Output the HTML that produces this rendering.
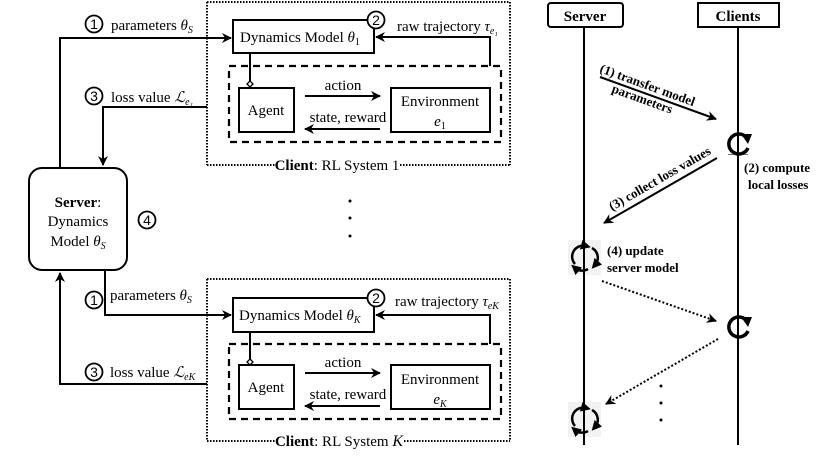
<!DOCTYPE html>
<html><head><meta charset="utf-8"><style>
html,body{margin:0;padding:0;background:#fff}
svg{display:block}
</style></head><body>
<svg width="831" height="464" viewBox="0 0 831 464" xmlns="http://www.w3.org/2000/svg" style="font-family:'Liberation Serif',serif">
<defs>
<marker id="a" viewBox="0 0 10 10" refX="9" refY="5" markerWidth="5" markerHeight="5" orient="auto"><path d="M0,0 L10,5 L0,10 L3,5 z" fill="#000"/></marker>
<marker id="ic" viewBox="0 0 10 10" refX="5" refY="5" markerWidth="4" markerHeight="4" orient="auto"><path d="M0,0 L10,5 L0,10 z" fill="#000"/></marker>
</defs>
<g stroke="#000" fill="none">
<path d="M207,2 V165 M207,2 H510 V165 M207,165 H275 M400,165 H510" stroke-width="2" stroke-dasharray="1.5,1.5"/>
<rect x="233" y="20" width="141" height="33" stroke-width="2"/>
<rect x="229" y="66" width="272" height="76" stroke-width="2.2" stroke-dasharray="7,5"/>
<rect x="239" y="88" width="55" height="44" stroke-width="2"/>
<rect x="391" y="88" width="99" height="44" stroke-width="2"/>
<path d="M305,96 H380" stroke-width="2" marker-end="url(#a)"/>
<path d="M380,129 H305" stroke-width="2" marker-end="url(#a)"/>
<path d="M490,66 V37 H376" stroke-width="2" marker-end="url(#a)"/>
<path d="M250,53 V84" stroke-width="2"/>
<path d="M60,168 V38 H231" stroke-width="2" marker-end="url(#a)"/>
<path d="M207,107 H103 V165" stroke-width="2" marker-end="url(#a)"/>
<path d="M207,279 V441 M207,279 H510 V441 M207,441 H275 M404,441 H510" stroke-width="2" stroke-dasharray="1.5,1.5"/>
<rect x="233" y="298" width="141" height="34" stroke-width="2"/>
<rect x="229" y="344" width="272" height="75" stroke-width="2.2" stroke-dasharray="7,5"/>
<rect x="239" y="365" width="55" height="44" stroke-width="2"/>
<rect x="391" y="365" width="99" height="44" stroke-width="2"/>
<path d="M305,373 H380" stroke-width="2" marker-end="url(#a)"/>
<path d="M380,406 H305" stroke-width="2" marker-end="url(#a)"/>
<path d="M490,344 V315 H376" stroke-width="2" marker-end="url(#a)"/>
<path d="M250,332 V361" stroke-width="2"/>
<path d="M105,270 V315 H231" stroke-width="2" marker-end="url(#a)"/>
<path d="M207,384 H60 V273" stroke-width="2" marker-end="url(#a)"/>
<rect x="29" y="168" width="98" height="102" rx="13" stroke-width="2"/>
<g stroke-width="1.8" fill="#fff">
<circle cx="94" cy="24" r="8.5"/><circle cx="94" cy="96" r="8.5"/><circle cx="376" cy="20" r="8.5"/>
<circle cx="147" cy="220" r="8.5"/>
<circle cx="94" cy="300" r="8.5"/><circle cx="94" cy="372" r="8.5"/><circle cx="376" cy="298" r="8.5"/>
</g>
<path d="M250,81 l3,3 l-3,3 l-3,-3 z M250,359 l3,3 l-3,3 l-3,-3 z" stroke-width="1.3" fill="#fff"/>
</g>
<g font-size="14" text-anchor="middle" style="font-family:'Liberation Sans',sans-serif">
<text x="94" y="29">1</text><text x="94" y="101">3</text><text x="376" y="25">2</text>
<text x="147" y="225">4</text>
<text x="94" y="305">1</text><text x="94" y="377">3</text><text x="376" y="303">2</text>
</g>
<g font-size="15" fill="#000">
<text x="111" y="30">parameters <tspan font-style="italic">θ</tspan><tspan font-size="10" dy="3" font-style="italic">S</tspan></text>
<text x="111" y="102">loss value <tspan font-style="italic">ℒ</tspan><tspan font-size="10" dy="3" font-style="italic">e₁</tspan></text>
<text x="240" y="42">Dynamics Model <tspan font-style="italic">θ</tspan><tspan font-size="10" dy="3">1</tspan></text>
<text x="397" y="31">raw trajectory <tspan font-style="italic">τ</tspan><tspan font-size="10" dy="3" font-style="italic">e₁</tspan></text>
<text x="343" y="90" text-anchor="middle">action</text>
<text x="348" y="122" text-anchor="middle">state, reward</text>
<text x="266" y="115" text-anchor="middle">Agent</text>
<text x="440" y="106" text-anchor="middle">Environment</text>
<text x="440" y="126" text-anchor="middle"><tspan font-style="italic">e</tspan><tspan font-size="10" dy="3">1</tspan></text>
<text x="337" y="170" text-anchor="middle"><tspan font-weight="bold">Client</tspan>: RL System 1</text>
<text x="110" y="300">parameters <tspan font-style="italic">θ</tspan><tspan font-size="10" dy="3" font-style="italic">S</tspan></text>
<text x="110" y="377">loss value <tspan font-style="italic">ℒ</tspan><tspan font-size="10" dy="3" font-style="italic">eK</tspan></text>
<text x="239" y="320">Dynamics Model <tspan font-style="italic">θ</tspan><tspan font-size="10" dy="3" font-style="italic">K</tspan></text>
<text x="395" y="306">raw trajectory <tspan font-style="italic">τ</tspan><tspan font-size="10" dy="3" font-style="italic">eK</tspan></text>
<text x="343" y="367" text-anchor="middle">action</text>
<text x="348" y="399" text-anchor="middle">state, reward</text>
<text x="266" y="392" text-anchor="middle">Agent</text>
<text x="440" y="384" text-anchor="middle">Environment</text>
<text x="440" y="404" text-anchor="middle"><tspan font-style="italic">e</tspan><tspan font-size="10" dy="3" font-style="italic">K</tspan></text>
<text x="339" y="446" text-anchor="middle"><tspan font-weight="bold">Client</tspan>: RL System <tspan font-style="italic" font-size="16">K</tspan></text>
<text x="78" y="207" text-anchor="middle"><tspan font-weight="bold">Server</tspan>:</text>
<text x="78" y="226" text-anchor="middle">Dynamics</text>
<text x="78" y="246" text-anchor="middle">Model <tspan font-style="italic">θ</tspan><tspan font-size="10" dy="3" font-style="italic">S</tspan></text>
</g>
<g fill="#000"><circle cx="350" cy="201" r="1.5"/><circle cx="350" cy="218" r="1.5"/><circle cx="350" cy="236" r="1.5"/>
<circle cx="661" cy="386" r="1.5"/><circle cx="661" cy="403" r="1.5"/><circle cx="661" cy="420" r="1.5"/></g>
<g stroke="#000" fill="none" stroke-width="2">
<path d="M584,27 V445 M738,27 V445"/>
<rect x="548" y="3" width="75" height="24" rx="3" fill="#fff"/>
<rect x="698" y="3" width="81" height="24" fill="#fff"/>
<path d="M600,77 L716,119" marker-end="url(#a)"/>
<path d="M717,158 L604,223" marker-end="url(#a)"/>
<path d="M602,281 L716,321" stroke-dasharray="2,2" marker-end="url(#a)"/>
<path d="M718,339 L606,404" stroke-dasharray="2,2" marker-end="url(#a)"/>
</g>
<g font-weight="bold" fill="#000">
<text x="585" y="21" text-anchor="middle" font-size="15">Server</text>
<text x="738" y="21" text-anchor="middle" font-size="15">Clients</text>
<text transform="translate(599,72) rotate(20)" font-size="13">(1) transfer model</text>
<text transform="translate(611,92) rotate(20)" font-size="13">parameters</text>
<text transform="translate(612,211) rotate(-30)" font-size="13">(3) collect loss values</text>
<text x="744" y="172" font-size="13">(2) compute</text>
<text x="748" y="189" font-size="13">local losses</text>
<text x="607" y="255" font-size="13">(4) update</text>
<text x="607" y="272" font-size="13">server model</text>
</g>
<rect x="728" y="154" width="20" height="1" fill="#777"/>
<g stroke="#000" stroke-width="3.5" fill="none">
<path d="M746,137 A10,10 0 1 0 748,148"/>
<path d="M746,320 A10,10 0 1 0 748,331"/>
</g>
<path d="M741,134 L752,134 L748,144 z M741,317 L752,317 L748,327 z" fill="#000"/>
<rect x="568" y="240" width="33" height="35" fill="#f2f2f2"/>
<rect x="568" y="402" width="33" height="35" fill="#f2f2f2"/>
<path d="M584,240 V275 M584,402 V437" stroke="#000" stroke-width="2"/>
<g stroke="#000" stroke-width="2.5" fill="none">
<path d="M575,264 A11,11 0 0 1 586,246" marker-end="url(#ic)"/>
<path d="M592,248 A11,11 0 0 1 595,265" marker-end="url(#ic)"/>
<path d="M588,269 A11,11 0 0 1 575,268" marker-end="url(#ic)"/>
<path d="M575,426 A11,11 0 0 1 586,408" marker-end="url(#ic)"/>
<path d="M592,410 A11,11 0 0 1 595,427" marker-end="url(#ic)"/>
<path d="M588,431 A11,11 0 0 1 575,430" marker-end="url(#ic)"/>
</g>
</svg>
</body></html>
